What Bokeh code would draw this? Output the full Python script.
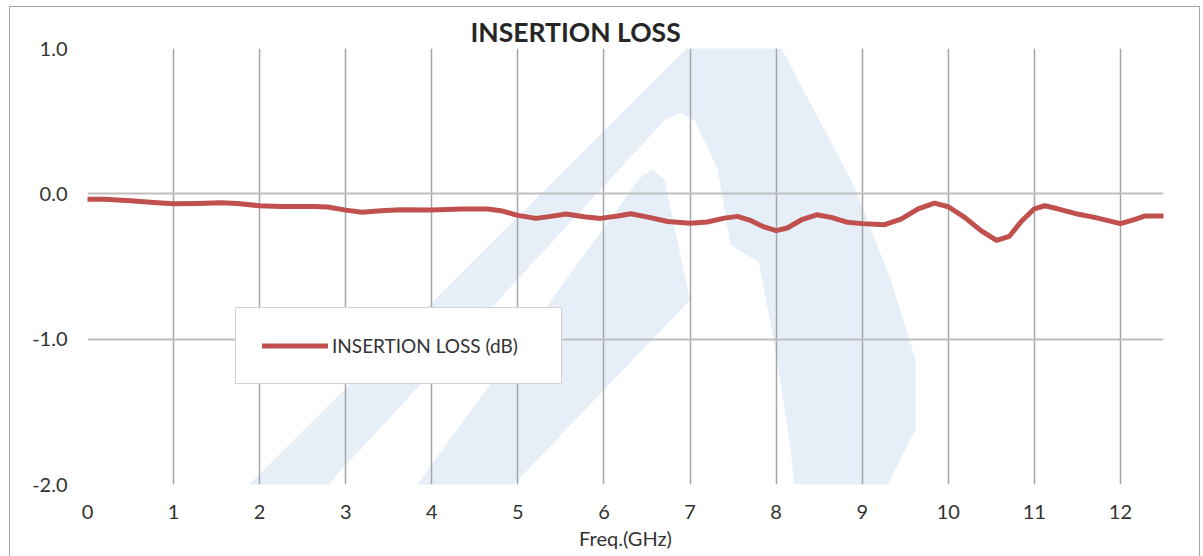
from bokeh.plotting import figure
from bokeh.models import Range1d, FixedTicker, PrintfTickFormatter, Legend, LegendItem
from bokeh.embed import file_html
from bokeh.resources import INLINE

# ---- data ----
freq_ghz = [0, 0.2, 0.5, 0.77, 1.0, 1.28, 1.55, 1.74, 2.0, 2.25,
            2.63, 2.79, 3.0, 3.19, 3.41, 3.64, 4.0, 4.34, 4.65, 4.8,
            5.0, 5.21, 5.38, 5.56, 5.77, 5.96, 6.16, 6.31, 6.51, 6.74,
            7.0, 7.2, 7.4, 7.55, 7.71, 7.86, 8.0, 8.13, 8.29, 8.47,
            8.64, 8.83, 9.0, 9.26, 9.45, 9.65, 9.84, 10.0, 10.19, 10.38,
            10.56, 10.71, 10.85, 11.0, 11.12, 11.27, 11.47, 11.7, 12.0, 12.16,
            12.28, 12.5]
insertion_loss_db = [-0.037, -0.037, -0.048, -0.059, -0.068, -0.066, -0.062, -0.066, -0.082, -0.087,
                     -0.087, -0.091, -0.112, -0.126, -0.116, -0.11, -0.112, -0.105, -0.105, -0.116,
                     -0.148, -0.169, -0.155, -0.139, -0.158, -0.169, -0.153, -0.137, -0.16, -0.19,
                     -0.203, -0.194, -0.167, -0.155, -0.185, -0.228, -0.253, -0.235, -0.18, -0.144,
                     -0.162, -0.196, -0.205, -0.212, -0.174, -0.103, -0.064, -0.089, -0.162, -0.253,
                     -0.32, -0.292, -0.189, -0.103, -0.082, -0.103, -0.135, -0.162, -0.205, -0.178,
                     -0.153, -0.153]
x_ticks = list(range(0, 13))
y_ticks = [-2.0, -1.0, 0.0, 1.0]
chart_title = "INSERTION LOSS"
series_name = "INSERTION LOSS (dB)"
x_label = "Freq.(GHz)"

# decorative background watermark (faint logo), outline in (GHz, dB) units
wm_outer_x = [1.05, 7.18, 7.55, 7.91, 8.90, 9.33, 9.62, 9.62, 9.21, 8.92]
wm_outer_y = [-2.49, 1.13, 1.24, 1.17, 0.06, -0.59, -1.14, -1.62, -2.10, -2.49]
wm_hole_x = [2.03, 6.71, 6.89, 7.06, 7.32, 7.47, 7.80, 7.99, 8.17, 8.28]
wm_hole_y = [-2.49, 0.51, 0.56, 0.50, 0.17, -0.35, -0.47, -1.07, -1.76, -2.49]
wm_inner_x = [3.23, 6.42, 6.56, 6.70, 7.00, 4.16]
wm_inner_y = [-2.49, 0.11, 0.17, 0.10, -0.73, -2.49]

FONT = "Lato"
TEXT = "#333333"
WM = "#e6eef7"

p = figure(frame_width=1076, frame_height=436,
           x_range=Range1d(0, 12.5), y_range=Range1d(-2, 1),
           output_backend="svg", toolbar_location=None,
           min_border_left=77, min_border_right=36,
           min_border_top=41, min_border_bottom=75)
p.styles = {"border": "1px solid #a6a6a6", "margin": "6px 0 0 9px"}
p.outline_line_color = None
p.background_fill_color = "white"
p.border_fill_color = "white"

# watermark under the grid
p.patch(wm_outer_x, wm_outer_y, fill_color=WM, line_color=None, level="image")
p.patch(wm_hole_x, wm_hole_y, fill_color="white", line_color=None, level="image")
p.patch(wm_inner_x, wm_inner_y, fill_color=WM, line_color=None, level="image")

# title
p.title.text = chart_title
p.title.align = "left"
p.title.offset = 383
p.title.standoff = 1
p.title.text_font = FONT
p.title.text_font_style = "bold"
p.title.text_font_size = "26.5px"
p.title.text_color = "#262626"

# axes
for ax in (p.xaxis, p.yaxis):
    ax.axis_line_color = None
    ax.major_tick_line_color = None
    ax.minor_tick_line_color = None
    ax.major_label_text_font = FONT
    ax.major_label_text_font_size = "20px"
    ax.major_label_text_color = TEXT
p.xaxis.ticker = FixedTicker(ticks=x_ticks)
p.yaxis.ticker = FixedTicker(ticks=y_ticks)
p.yaxis.formatter = PrintfTickFormatter(format="%.1f")
p.xaxis.major_label_standoff = 14
p.yaxis.major_label_standoff = 14
p.xaxis.axis_label = x_label
p.xaxis.axis_label_text_font = FONT
p.xaxis.axis_label_text_font_style = "normal"
p.xaxis.axis_label_text_font_size = "20px"
p.xaxis.axis_label_text_color = TEXT
p.xaxis.axis_label_standoff = 4

# grid
p.xgrid.ticker = FixedTicker(ticks=x_ticks)
p.ygrid.ticker = FixedTicker(ticks=y_ticks)
p.xgrid.grid_line_color = "#a6a6a6"
p.xgrid.grid_line_width = 1.5
p.ygrid.grid_line_color = "#bfbfbf"
p.ygrid.grid_line_width = 2

# series
r = p.line(freq_ghz, insertion_loss_db, line_color="#c0504d", line_width=5,
           line_join="round", line_cap="round")

legend = Legend(items=[LegendItem(label=series_name, renderers=[r])],
                location=(148, 100), orientation="vertical",
                padding=26, margin=0, glyph_width=66, glyph_height=17,
                label_standoff=4, label_width=203, label_height=17,
                border_line_color="#a6a6a6", border_line_width=1.5,
                background_fill_color="white", background_fill_alpha=1.0,
                label_text_font=FONT, label_text_font_size="19px",
                label_text_color=TEXT)
p.add_layout(legend, "center")

open("out.html", "w").write(file_html(p, INLINE))
